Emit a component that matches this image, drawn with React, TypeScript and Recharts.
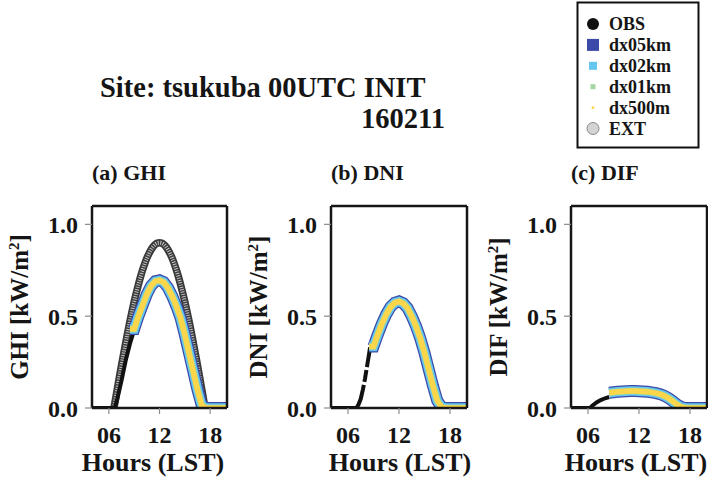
import { LineChart, Line, XAxis, YAxis } from 'recharts';

const FONT = "'Liberation Serif', 'Times New Roman', serif";

// forecast runs (all four resolutions overlap), hours in LST
const modelHours = [8.5, 9, 9.5, 10, 10.5, 11, 11.5, 12, 12.5, 13, 13.5, 14, 14.5, 15, 15.5, 16, 16.5, 17, 17.5, 18, 19, 20];
const ghiModel = [0.43, 0.43, 0.5, 0.56, 0.62, 0.665, 0.69, 0.695, 0.685, 0.655, 0.61, 0.555, 0.49, 0.4, 0.3, 0.2, 0.1, 0.015, 0, 0, 0, 0];
const dniModel = [0.335, 0.335, 0.4, 0.46, 0.51, 0.55, 0.573, 0.58, 0.57, 0.545, 0.5, 0.445, 0.38, 0.3, 0.21, 0.12, 0.04, 0.005, 0, 0, 0, 0];
const difModel = [0.083, 0.086, 0.088, 0.09, 0.091, 0.092, 0.092, 0.091, 0.09, 0.088, 0.085, 0.081, 0.075, 0.066, 0.053, 0.036, 0.018, 0.005, 0, 0, 0, 0];

// observations
const obsGhiHours = [4, 6.7, 7, 7.5, 8, 8.5, 8.9];
const obsGhi = [0, 0, 0.05, 0.15, 0.26, 0.35, 0.41];
const obsDniHours = [4, 7, 7.25, 7.5, 7.75, 8, 8.25, 8.5, 8.6];
const obsDni = [0, 0, 0.02, 0.05, 0.1, 0.16, 0.23, 0.3, 0.33];
const obsDifHours = [4, 6.25, 6.5, 7, 7.5, 8, 8.5];
const obsDif = [0, 0, 0.012, 0.03, 0.043, 0.053, 0.06];

// extraterrestrial (GHI panel only)
const extHours = [
  6.6, 6.75, 7, 7.25, 7.5, 7.75, 8, 8.25, 8.5, 8.75, 9, 9.25, 9.5, 9.75, 10, 10.25, 10.5, 10.75, 11, 11.25, 11.5, 11.75, 12,
  12.25, 12.5, 12.75, 13, 13.25, 13.5, 13.75, 14, 14.25, 14.5, 14.75, 15, 15.25, 15.5, 15.75, 16, 16.25, 16.5, 16.75, 17, 17.25, 17.4,
];
const extGhi = [
  0, 0.039, 0.104, 0.169, 0.233, 0.295, 0.356, 0.416, 0.473, 0.527, 0.579, 0.627, 0.672, 0.714, 0.752, 0.786, 0.816, 0.841, 0.862, 0.879, 0.891, 0.898, 0.9,
  0.898, 0.891, 0.879, 0.862, 0.841, 0.816, 0.786, 0.752, 0.714, 0.672, 0.627, 0.579, 0.527, 0.473, 0.416, 0.356, 0.295, 0.233, 0.169, 0.104, 0.039, 0,
];

const hourTicks = [6, 12, 18];
const yMajor = [0, 0.5, 1.0];
const yMinor = [0, 0.1, 0.2, 0.3, 0.4, 0.5, 0.6, 0.7, 0.8, 0.9, 1.0];
const legendNames = ['OBS', 'dx05km', 'dx02km', 'dx01km', 'dx500m', 'EXT'];
const modelNames = ['dx05km', 'dx02km', 'dx01km', 'dx500m'];

const modelStyle: Record<string, { color: string; width: number; box: number }> = {
  dx05km: { color: '#3b4aa8', width: 12, box: 12 },
  dx02km: { color: '#63c7f0', width: 9.5, box: 8 },
  dx01km: { color: '#a3d5a0', width: 6.5, box: 5 },
  dx500m: { color: '#fbd54a', width: 5.5, box: 2.5 },
};

const pts = (hs: number[], vs: number[]) => hs.map((h, i) => ({ h, v: vs[i] }));

const frame = { stroke: '#161616', strokeWidth: 2.5 };
const tickLn = { stroke: '#8c8c8c', strokeWidth: 1.2 };
const tickTxt = { fontFamily: FONT, fontWeight: 'bold', fontSize: 24, fill: '#151515' };

const PLOT_TOP = 206;
const PLOT_BOTTOM = 408;
const CH_W = 236;
const CH_H = 484;

const panels = [
  { key: 'a', title: '(a) GHI', name: 'GHI', left: 0, plotLeft: 92, plotRight: 227, xLab: 153, obs: pts(obsGhiHours, obsGhi), model: pts(modelHours, ghiModel), ext: pts(extHours, extGhi), dash: undefined },
  { key: 'b', title: '(b) DNI', name: 'DNI', left: 236, plotLeft: 331, plotRight: 467, xLab: 400, obs: pts(obsDniHours, obsDni), model: pts(modelHours, dniModel), ext: null, dash: '50 3 12 3 40' },
  { key: 'c', title: '(c) DIF', name: 'DIF', left: 472, plotLeft: 571, plotRight: 707, xLab: 636, obs: pts(obsDifHours, obsDif), model: pts(modelHours, difModel), ext: null, dash: undefined },
];

function Panel({ p }: { p: (typeof panels)[number] }) {
  const common = { xAxisId: 'b', yAxisId: 'l', dataKey: 'v', type: 'linear' as const, dot: false, activeDot: false, isAnimationActive: false };
  // each axis box is 1px deep; two axes on the left and right, one on top and bottom
  return (
    <div style={{ position: 'absolute', left: p.left, top: 0 }}>
      <LineChart
        width={CH_W}
        height={CH_H}
        margin={{ top: PLOT_TOP - 1, bottom: CH_H - PLOT_BOTTOM - 1, left: p.plotLeft - p.left - 2, right: p.left + CH_W - p.plotRight - 2 }}
      >
        <XAxis xAxisId="b" type="number" dataKey="h" domain={[4, 20]} allowDataOverflow ticks={hourTicks}
          tickFormatter={(v: number) => String(v).padStart(2, '0')} tickSize={6} tickMargin={12}
          axisLine={frame} tickLine={tickLn} tick={tickTxt} height={1} />
        <XAxis xAxisId="t" orientation="top" type="number" dataKey="h" domain={[4, 20]} allowDataOverflow ticks={hourTicks}
          tickSize={6} tick={false} axisLine={frame} tickLine={tickLn} height={1} />
        <YAxis yAxisId="l" type="number" domain={[0, 1.1]} allowDataOverflow ticks={yMajor}
          tickFormatter={(v: number) => v.toFixed(1)} tickSize={7} tickMargin={7}
          axisLine={frame} tickLine={tickLn} tick={tickTxt} width={1} />
        <YAxis yAxisId="lm" type="number" domain={[0, 1.1]} allowDataOverflow ticks={yMinor}
          tickSize={3} tick={false} axisLine={false} tickLine={tickLn} width={1} />
        <YAxis yAxisId="r" orientation="right" type="number" domain={[0, 1.1]} allowDataOverflow ticks={yMajor.slice(1)}
          tickSize={7} tick={false} axisLine={frame} tickLine={tickLn} width={1} />
        <YAxis yAxisId="rm" orientation="right" type="number" domain={[0, 1.1]} allowDataOverflow ticks={yMinor}
          tickSize={3} tick={false} axisLine={false} tickLine={tickLn} width={1} />

        {p.ext && (
          <Line {...common} name="EXT" data={p.ext} type="monotone" stroke="#3a3a3a" strokeWidth={7.5} />
        )}
        {p.ext && (
          <Line {...common} name="EXT-in" data={p.ext} type="monotone" stroke="#c4c4c4" strokeWidth={4} strokeDasharray="1 1.4" legendType="none" />
        )}
        <Line {...common} name="OBS" data={p.obs} stroke="#111" strokeWidth={4} strokeDasharray={p.dash} />
        {modelNames.map((m) => (
          <Line key={m} {...common} name={m} data={p.model} stroke={modelStyle[m].color}
            strokeWidth={modelStyle[m].width} strokeLinejoin="miter" strokeLinecap="butt" />
        ))}
      </LineChart>
    </div>
  );
}

function Texts() {
  const bold = { fontFamily: FONT, fontWeight: 'bold' as const, fill: '#151515' };
  return (
    <svg width={708} height={484} style={{ position: 'absolute', left: 0, top: 0 }}>
      <text x={100} y={97} fontSize={28.5} {...bold}>Site: tsukuba 00UTC INIT</text>
      <text x={445} y={128} fontSize={28.5} textAnchor="end" {...bold}>160211</text>

      {panels.map((p) => {
        const cx = p.plotLeft - 64;
        const cy = (PLOT_TOP + PLOT_BOTTOM) / 2;
        return (
          <g key={p.key}>
            <text x={p.plotLeft} y={180} fontSize={22} {...bold}>{p.title}</text>
            <text x={cx} y={cy} transform={`rotate(-90 ${cx} ${cy})`} textAnchor="middle" fontSize={25} {...bold}>
              {p.name} [kW/m<tspan dy={-9} fontSize={15}>2</tspan><tspan dy={9}>]</tspan>
            </text>
            <text x={p.xLab} y={471} textAnchor="middle" fontSize={26} {...bold}>Hours (LST)</text>
          </g>
        );
      })}

      <rect x={577.5} y={2.5} width={121} height={145} fill="#fff" stroke="#111" strokeWidth={2} />
      {legendNames.map((n, i) => {
        const y = 24 + i * 20.9;
        const st = modelStyle[n];
        let sym;
        if (n === 'OBS') sym = <circle cx={593} cy={y} r={6} fill="#111" />;
        else if (n === 'EXT') sym = <circle cx={593} cy={y} r={6} fill="#d4d4d4" stroke="#8a8a8a" strokeWidth={1} />;
        else sym = <rect x={593 - st.box / 2} y={y - st.box / 2} width={st.box} height={st.box} fill={st.color} />;
        return (
          <g key={n}>
            {sym}
            <text x={609} y={y + 6} fontSize={18} {...bold}>{n}</text>
          </g>
        );
      })}
    </svg>
  );
}

export default function App() {
  return (
    <div style={{ position: 'fixed', left: 0, top: 0, width: 708, height: 484, background: '#fff', overflow: 'hidden' }}>
      <Texts />
      {panels.map((p) => (
        <Panel key={p.key} p={p} />
      ))}
    </div>
  );
}
